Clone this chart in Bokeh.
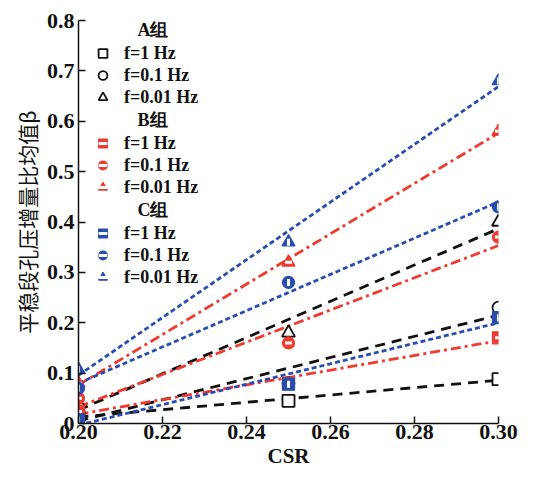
import numpy as np
from bokeh.plotting import figure
from bokeh.models import Range1d, Legend, LegendItem, FixedTicker, ColumnDataSource
from bokeh.embed import file_html
from bokeh.resources import INLINE

csr = [0.20, 0.25, 0.30]

# A组 (black), B组 (red), C组 (blue); 1 Hz, 0.1 Hz, 0.01 Hz
a_1 = [0.015, 0.045, 0.088]
a_01 = [0.02, 0.08, 0.23]
a_001 = [0.04, 0.18, 0.40]
b_1 = [0.024, 0.08, 0.17]
b_01 = [0.05, 0.16, 0.37]
b_001 = [0.08, 0.32, 0.58]
c_1 = [0.007, 0.078, 0.21]
c_01 = [0.07, 0.28, 0.43]
c_001 = [0.107, 0.36, 0.68]

freq_labels = ["f=1 Hz", "f=0.1 Hz", "f=0.01 Hz"]
group_labels = ["A组", "B组", "C组"]
x_ticks = [0.20, 0.22, 0.24, 0.26, 0.28, 0.30]
y_ticks = [0, 0.1, 0.2, 0.3, 0.4, 0.5, 0.6, 0.7, 0.8]

BLACK = "#111111"
RED = "#ee3b2f"
BLUE = "#2a4db0"
SERIF = "Liberation Serif"

p = figure(width=538, height=470, output_backend="svg", toolbar_location=None,
           x_range=Range1d(0.2, 0.3), y_range=Range1d(0, 0.8),
           min_border_left=78, min_border_right=40, min_border_top=20, min_border_bottom=40)
p.outline_line_color = None
p.grid.visible = False
p.background_fill_color = "white"

for ax in (p.xaxis[0], p.yaxis[0]):
    ax.major_tick_in = 7
    ax.major_tick_out = 0
    ax.minor_tick_line_color = None
    ax.axis_line_width = 1.5
    ax.major_tick_line_width = 1.5
    ax.axis_line_color = BLACK
    ax.major_tick_line_color = BLACK
    ax.major_label_text_font = SERIF
    ax.major_label_text_font_style = "bold"
    ax.major_label_text_font_size = "22px"
    ax.major_label_text_color = BLACK
    ax.axis_label_text_color = BLACK

p.xaxis.ticker = FixedTicker(ticks=x_ticks)
p.xaxis.major_label_overrides = {t: "%.2f" % t for t in x_ticks}
p.xaxis.axis_label = "CSR"
p.xaxis.axis_label_text_font = SERIF
p.xaxis.axis_label_text_font_style = "bold"
p.xaxis.axis_label_text_font_size = "21px"
p.xaxis.axis_label_standoff = 2
p.xaxis.major_label_standoff = 1

p.yaxis.ticker = FixedTicker(ticks=y_ticks)
p.yaxis.major_label_overrides = {t: ("0" if t == 0 else "%.1f" % t) for t in y_ticks}
p.yaxis.axis_label = "平稳段孔压增量比均值β"
p.yaxis.axis_label_text_font = "Noto Sans CJK SC"
p.yaxis.axis_label_text_font_style = "normal"
p.yaxis.axis_label_text_font_size = "21px"
p.yaxis.axis_label_standoff = 2
p.yaxis.major_label_standoff = 4

series = [
    (a_1, a_01, a_001, BLACK, "10 7", "open"),
    (b_1, b_01, b_001, RED, "10 4 3 4", "hbar"),
    (c_1, c_01, c_001, BLUE, "5 3", "vbar"),
]
markers = ["square", "circle", "triangle"]

# fitted lines first
xs = np.array(csr)
for grp in series:
    for ys in grp[:3]:
        k, b = np.polyfit(xs, np.array(ys), 1)
        p.line([0.2, 0.3], [k * 0.2 + b, k * 0.3 + b], line_color=grp[3], line_width=2.8,
               line_dash=grp[4])

items = []
empty = ColumnDataSource(data=dict(x=[], y=[]))
for gi, grp in enumerate(series):
    hdr = p.scatter("x", "y", source=empty, marker="square", fill_alpha=0, line_alpha=0)
    items.append(LegendItem(label="\u00a0\u00a0\u00a0" + group_labels[gi], renderers=[hdr]))
    color, style = grp[3], grp[5]
    for si in range(3):
        ys = grp[si]
        m = markers[si]
        size = 13 if m == "triangle" else 12
        if style == "open":
            r = p.scatter(csr, ys, marker=m, size=size, fill_color="white",
                          line_color=color, line_width=1.8)
            items.append(LegendItem(label=freq_labels[si], renderers=[r]))
        else:
            r = p.scatter(csr, ys, marker=m, size=size, fill_color=color,
                          line_color=color, line_width=1.2)
            ang = 0 if style == "hbar" else np.pi / 2
            w = p.scatter(csr, ys, marker="dash", size=7, angle=ang,
                          line_color="white", line_width=3)
            items.append(LegendItem(label=freq_labels[si], renderers=[r, w]))

legend = Legend(items=items, location=(12, 135))
legend.border_line_color = None
legend.background_fill_alpha = 0
legend.label_text_font = SERIF
legend.label_text_font_style = "bold"
legend.label_text_font_size = "18px"
legend.label_text_color = BLACK
legend.glyph_width = 25
legend.glyph_height = 22
legend.label_height = 22
legend.spacing = 0
legend.label_standoff = 9
legend.margin = 0
legend.padding = 0
p.add_layout(legend)

open("out.html", "w").write(file_html(p, INLINE))
